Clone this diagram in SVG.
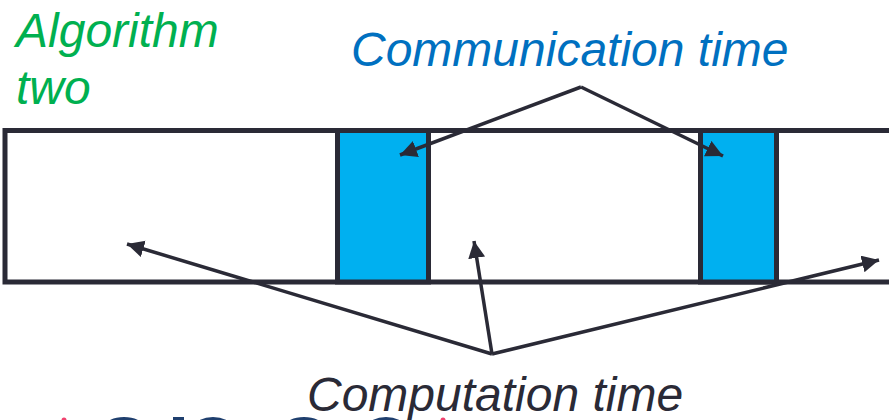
<svg xmlns="http://www.w3.org/2000/svg" width="889" height="420" viewBox="0 0 889 420">
<style>
text{font-family:"Liberation Sans",Arial,sans-serif;font-style:italic;font-size:48px}
.g{fill:#00b050}.b{fill:#0070c0}.k{fill:#2a2a36}
.bar{fill:none;stroke:#2a2a36;stroke-width:5}
.blue{fill:#00b0f0;stroke:#2a2a36;stroke-width:5}
.c{fill:none;stroke:#2a2a36;stroke-width:3.5}
.logo{fill:#1f3f6e}.dot{fill:#f0426e}
</style>
<defs><marker id="a" markerUnits="userSpaceOnUse" markerWidth="20" markerHeight="18" refX="17" refY="8.5" orient="auto"><path d="M0 0L17 8.5L0 17z" fill="#2a2a36"/></marker></defs>
<rect width="889" height="420" fill="#fff"/>
<g id="timeline"><path class="bar" d="M889 130.5H5V282H889"/></g>
<g id="comm1"><rect class="blue" x="337.5" y="130.5" width="91" height="151.5"/></g>
<g id="comm2"><rect class="blue" x="700.5" y="130.5" width="76" height="151.5"/></g>
<g id="connectors">
<path class="c" marker-end="url(#a)" d="M581 87L400 155"/>
<path class="c" marker-end="url(#a)" d="M581 87L723 156"/>
<path class="c" marker-end="url(#a)" d="M492 354L127 244"/>
<path class="c" marker-end="url(#a)" d="M492 354L474 241"/>
<path class="c" marker-end="url(#a)" d="M492 354L879 260"/>
</g>
<g id="label-algorithm"><text class="g" x="16" y="47">Algorithm</text><text class="g" x="16" y="103.5">two</text></g>
<g id="label-comm"><text class="b" x="351" y="66">Communication time</text></g>
<g id="label-comp"><text class="k" x="307" y="411">Computation time</text></g>
<g id="cropped-logo">
<circle class="dot" cx="64" cy="420" r="2.5"/>
<ellipse class="logo" cx="124" cy="426" rx="19" ry="9"/>
<rect class="logo" x="173" y="417" width="11" height="3"/>
<ellipse class="logo" cx="213" cy="426" rx="18" ry="9"/>
<ellipse class="logo" cx="304" cy="426" rx="19" ry="9"/>
<ellipse class="logo" cx="386" cy="426" rx="18" ry="9"/>
<circle class="dot" cx="443" cy="420" r="2.5"/>
</g>
</svg>
